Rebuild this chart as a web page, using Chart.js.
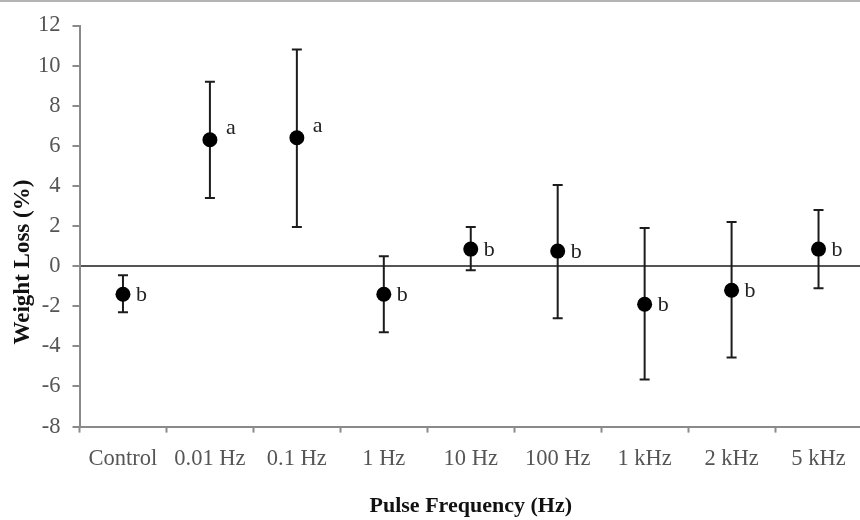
<!DOCTYPE html>
<html>
<head>
<meta charset="utf-8">
<script src="https://cdn.jsdelivr.net/npm/chart.js@4"></script>
<style>
  html, body { margin: 0; padding: 0; background: #fff; }
  #wrap { width: 860px; height: 520px; overflow: hidden; position: relative; border-top: 2px solid #b4b4b4; box-sizing: border-box; }
  #chart { position: absolute; left: 0; top: -2px; }
</style>
</head>
<body>
<div id="wrap">
  <canvas id="chart" width="875" height="520"></canvas>
</div>
<script>
// data
var categories = ['Control', '0.01 Hz', '0.1 Hz', '1 Hz', '10 Hz', '100 Hz', '1 kHz', '2 kHz', '5 kHz'];
var meanLoss  = [-1.4, 6.3, 6.4, -1.4, 0.85, 0.75, -1.9, -1.2, 0.85];
var upperErr  = [-0.45, 9.2, 10.8, 0.5, 1.95, 4.05, 1.9, 2.2, 2.8];
var lowerErr  = [-2.3, 3.4, 1.95, -3.3, -0.2, -2.6, -5.65, -4.55, -1.1];
var groups    = ['b', 'a', 'a', 'b', 'b', 'b', 'b', 'b', 'b'];
var yTicks    = [-8, -6, -4, -2, 0, 2, 4, 6, 8, 10, 12];

var serif = '"Liberation Serif", "Times New Roman", serif';

// whiskers drawn under the points
const errorBars = {
    id: 'errorBars',
    beforeDatasetsDraw(chart) {
        const ctx = chart.ctx;
        const x = chart.scales.x, y = chart.scales.y;
        ctx.save();
        ctx.strokeStyle = '#1c1c1c';
        ctx.lineWidth = 2;
        for (var i = 0; i < categories.length; i++) {
            var px = x.getPixelForValue(i);
            var top = y.getPixelForValue(upperErr[i]);
            var bot = y.getPixelForValue(lowerErr[i]);
            ctx.beginPath();
            ctx.moveTo(px, top); ctx.lineTo(px, bot);
            ctx.moveTo(px - 5, top); ctx.lineTo(px + 5, top);
            ctx.moveTo(px - 5, bot); ctx.lineTo(px + 5, bot);
            ctx.stroke();
        }
        ctx.restore();
    }
};

// significance letters next to each mean
const groupLetters = {
    id: 'groupLetters',
    afterDatasetsDraw(chart) {
        const ctx = chart.ctx;
        const pts = chart.getDatasetMeta(0).data;
        ctx.save();
        ctx.fillStyle = '#222';
        ctx.font = '22px ' + serif;
        ctx.textAlign = 'left';
        ctx.textBaseline = 'middle';
        for (var i = 0; i < pts.length; i++) {
            var dx = groups[i] === 'a' ? 16 : 13;
            var dy = groups[i] === 'a' ? -12 : 1;
            ctx.fillText(groups[i], pts[i].x + dx, pts[i].y + dy);
        }
        ctx.restore();
    }
};

// y title, sits a bit below the middle like the original
const yTitle = {
    id: 'yTitle',
    afterDraw(chart) {
        const ctx = chart.ctx;
        const a = chart.chartArea;
        ctx.save();
        ctx.translate(23, (a.top + a.bottom) / 2 + 36);
        ctx.rotate(-Math.PI / 2);
        ctx.fillStyle = '#111';
        ctx.font = 'bold 23px ' + serif;
        ctx.textAlign = 'center';
        ctx.textBaseline = 'middle';
        ctx.fillText('Weight Loss (%)', 0, 0);
        ctx.restore();
    }
};

const config = {
    type: 'line',
    data: {
        labels: categories,
        datasets: [{
            data: meanLoss,
            showLine: false,
            pointRadius: 7.5,
            pointHoverRadius: 7.5,
            pointBackgroundColor: '#000',
            pointBorderColor: '#000',
            pointBorderWidth: 0
        }]
    },
    options: {
        responsive: false,
        animation: false,
        layout: { padding: { left: 26, right: 13, top: 24, bottom: 0 } },
        plugins: {
            legend: { display: false },
            tooltip: { enabled: false }
        },
        scales: {
            x: {
                offset: true,
                grid: {
                    offset: true,
                    drawOnChartArea: false,
                    tickLength: 6,
                    tickColor: '#8a8a8a',
                    tickWidth: 2
                },
                border: { color: '#8a8a8a', width: 2 },
                ticks: {
                    color: '#555',
                    padding: 13,
                    maxRotation: 0,
                    autoSkip: false,
                    font: { family: serif, size: 22.5 }
                },
                title: {
                    display: true,
                    text: 'Pulse Frequency (Hz)',
                    color: '#111',
                    font: { family: serif, size: 22, weight: 'bold' },
                    padding: { top: 8, bottom: 0 }
                }
            },
            y: {
                min: -8,
                max: 12,
                afterBuildTicks: function(axis) {
                    axis.ticks = yTicks.map(function(v) { return { value: v }; });
                },
                grid: {
                    color: function(c) { return c.tick && c.tick.value === 0 ? '#555' : 'rgba(0,0,0,0)'; },
                    lineWidth: 2,
                    tickLength: 7,
                    tickColor: '#8a8a8a',
                    tickWidth: 2
                },
                border: { color: '#8a8a8a', width: 2 },
                ticks: {
                    color: '#555',
                    padding: 12,
                    font: { family: serif, size: 22.5 }
                }
            }
        }
    },
    plugins: [errorBars, groupLetters, yTitle]
};

const weightChart = new Chart(document.getElementById('chart'), config);
</script>
</body>
</html>
